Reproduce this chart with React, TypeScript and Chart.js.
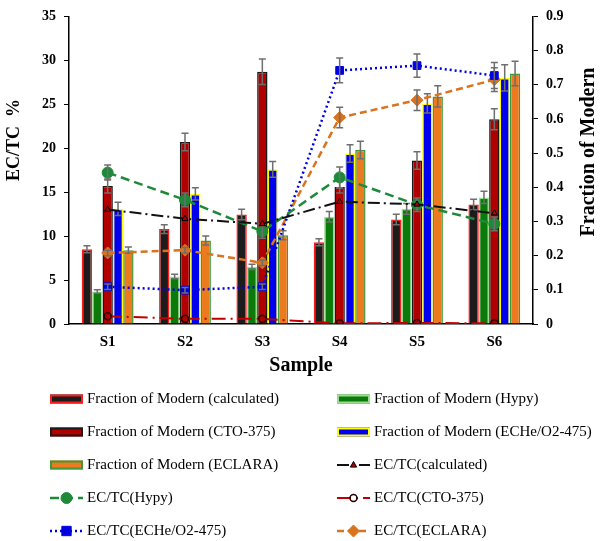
import React, { useEffect, useRef } from "react";
import { Chart, registerables } from "chart.js";

Chart.register(...registerables);

// ---------- data ----------
const samples = ["S1", "S2", "S3", "S4", "S5", "S6"];

const barCalculated = [8.5, 10.8, 12.45, 9.3, 11.9, 13.6];
const barCalculatedErr = [0.4, 0.5, 0.6, 0.4, 0.6, 0.6];
const barHypy = [3.7, 5.4, 6.5, 12.2, 13.1, 14.4];
const barHypyErr = [0.2, 0.25, 0.3, 0.6, 0.6, 0.7];
const barCTO = [15.7, 20.7, 28.7, 15.6, 18.6, 23.3];
const barCTOErr = [0.8, 1.0, 1.45, 0.7, 1.0, 1.2];
const barECHe = [13.1, 14.8, 17.6, 19.4, 25.1, 28.0];
const barECHeErr = [0.75, 0.7, 0.9, 1.0, 1.1, 1.5];
const barECLARA = [8.4, 9.5, 10.1, 19.8, 25.9, 28.5];
const barECLARAErr = [0.35, 0.5, 0.5, 1.0, 1.2, 1.4];

const lineCalculated = [0.335, 0.308, 0.293, 0.358, 0.35, 0.324];
const lineHypy = [0.443, 0.363, 0.271, 0.429, 0.349, 0.293];
const lineHypyErr = [0.022, 0.02, 0.02, 0.03, 0.02, 0.02];
const lineCTO = [0.023, 0.015, 0.015, 0.002, 0.003, 0.002];
const lineECHe = [0.109, 0.099, 0.109, 0.742, 0.756, 0.727];
const lineECHeErr = [0.008, 0.008, 0.008, 0.036, 0.034, 0.038];
const lineECLARA = [0.208, 0.216, 0.179, 0.604, 0.655, 0.715];
const lineECLARAErr = [0.008, 0.008, 0.008, 0.03, 0.03, 0.035];

const leftTicksMax = 35;
const rightTicksMax = 0.9;

const SERIF = "'Liberation Serif', 'Times New Roman', serif";

// ---------- helpers ----------
function drawMarker(ctx: CanvasRenderingContext2D, style: string, x: number, y: number, r: number, fill: string, stroke: string, bw: number) {
  ctx.save();
  ctx.beginPath();
  if (style === "circle") {
    ctx.arc(x, y, r, 0, Math.PI * 2);
  } else if (style === "rect") {
    ctx.rect(x - r * 0.85, y - r * 0.85, r * 1.7, r * 1.7);
  } else if (style === "rectRot") {
    ctx.moveTo(x, y - r);
    ctx.lineTo(x + r, y);
    ctx.lineTo(x, y + r);
    ctx.lineTo(x - r, y);
    ctx.closePath();
  } else if (style === "triangle") {
    ctx.moveTo(x, y - r);
    ctx.lineTo(x + r * 0.9, y + r * 0.6);
    ctx.lineTo(x - r * 0.9, y + r * 0.6);
    ctx.closePath();
  }
  if (fill && fill !== "transparent") {
    ctx.fillStyle = fill;
    ctx.fill();
  }
  if (bw > 0) {
    ctx.lineWidth = bw;
    ctx.strokeStyle = stroke;
    ctx.stroke();
  }
  ctx.restore();
}

const errorBarPlugin = {
  id: "errorBars",
  afterDatasetDraw(chart: any, args: any) {
    const ds = chart.data.datasets[args.index];
    if (!ds.errors) return;
    const meta = args.meta;
    const scale = chart.scales[meta.yAxisID];
    const ctx = chart.ctx;
    ctx.save();
    ctx.strokeStyle = "#6e6e6e";
    ctx.lineWidth = 1.5;
    meta.data.forEach((el: any, i: number) => {
      const v = ds.data[i];
      const e = ds.errors[i];
      if (v == null || !e) return;
      const x = el.x;
      const yt = scale.getPixelForValue(v + e);
      const yb = scale.getPixelForValue(v - e);
      ctx.beginPath();
      ctx.moveTo(x, yt);
      ctx.lineTo(x, yb);
      ctx.moveTo(x - 3.5, yt);
      ctx.lineTo(x + 3.5, yt);
      ctx.moveTo(x - 3.5, yb);
      ctx.lineTo(x + 3.5, yb);
      ctx.stroke();
    });
    ctx.restore();
  },
};

const titlesPlugin = {
  id: "axisTitles",
  afterDraw(chart: any) {
    const ctx = chart.ctx;
    ctx.save();
    ctx.fillStyle = "#000";
    ctx.textAlign = "center";
    ctx.textBaseline = "middle";
    ctx.font = `bold 18px ${SERIF}`;
    ctx.translate(14, 140);
    ctx.rotate(-Math.PI / 2);
    ctx.fillText("EC/TC  %", 0, 0);
    ctx.restore();

    ctx.save();
    ctx.fillStyle = "#000";
    ctx.textAlign = "center";
    ctx.textBaseline = "middle";
    ctx.font = `bold 20px ${SERIF}`;
    ctx.translate(589, 152);
    ctx.rotate(-Math.PI / 2);
    ctx.fillText("Fraction of Modern", 0, 0);
    ctx.restore();
  },
};

const legendPlugin = {
  id: "customLegend",
  afterDraw(chart: any) {
    const ctx = chart.ctx;
    const rowYs = [399, 432, 465, 498, 531];
    const colX = [50, 337];
    const sw = 33;
    chart.data.datasets.forEach((ds: any, i: number) => {
      const col = i % 2;
      const row = Math.floor(i / 2);
      const x0 = colX[col];
      const y = rowYs[row];
      ctx.save();
      if (ds.type === "bar") {
        ctx.fillStyle = ds.backgroundColor;
        ctx.fillRect(x0, y - 4.5, sw, 9);
        ctx.strokeStyle = ds.borderColor;
        ctx.lineWidth = 2;
        ctx.strokeRect(x0 + 1, y - 3.5, sw - 2, 7);
      } else {
        ctx.strokeStyle = ds.borderColor;
        ctx.lineWidth = ds.borderWidth;
        ctx.setLineDash(ds.borderDash || []);
        ctx.beginPath();
        ctx.moveTo(x0, y);
        ctx.lineTo(x0 + sw, y);
        ctx.stroke();
        ctx.setLineDash([]);
        drawMarker(ctx, ds.pointStyle, x0 + sw / 2, y, ds.pointRadius, ds.pointBackgroundColor, ds.pointBorderColor, ds.pointBorderWidth);
      }
      ctx.fillStyle = "#000";
      ctx.font = `15px ${SERIF}`;
      ctx.textAlign = "left";
      ctx.textBaseline = "middle";
      ctx.fillText(ds.label, x0 + sw + 4, y);
      ctx.restore();
    });
  },
};

function makeBar(label: string, data: number[], errors: number[], bg: string, border: string) {
  return {
    type: "bar" as const,
    label,
    data,
    errors,
    backgroundColor: bg,
    borderColor: border,
    borderWidth: 1.5,
    yAxisID: "y",
    order: 2,
    categoryPercentage: 0.67,
    barPercentage: 1.0,
  };
}

function makeLine(label: string, data: number[], errors: number[] | null, color: string, dash: number[], width: number, pointStyle: string, radius: number, pfill: string, pborder: string, pbw: number) {
  return {
    type: "line" as const,
    label,
    data,
    errors,
    borderColor: color,
    backgroundColor: pfill,
    borderWidth: width,
    borderDash: dash,
    fill: false,
    tension: 0,
    pointStyle,
    pointRadius: radius,
    pointBackgroundColor: pfill,
    pointBorderColor: pborder,
    pointBorderWidth: pbw,
    yAxisID: "y1",
    order: 1,
  };
}

export default function App() {
  const ref = useRef<HTMLCanvasElement | null>(null);

  useEffect(() => {
    document.body.style.margin = "0";
    const canvas = ref.current;
    if (!canvas) return;

    const datasets: any[] = [
      makeBar("Fraction of Modern (calculated)", barCalculated, barCalculatedErr, "#1c1c1c", "#ff1a1a"),
      makeBar("Fraction of Modern (Hypy)", barHypy, barHypyErr, "#0b7a0b", "#9bdc8f"),
      makeBar("Fraction of Modern (CTO-375)", barCTO, barCTOErr, "#b00000", "#1a1a1a"),
      makeBar("Fraction of Modern (ECHe/O2-475)", barECHe, barECHeErr, "#0000ee", "#ffff00"),
      makeBar("Fraction of Modern (ECLARA)", barECLARA, barECLARAErr, "#ec7a1e", "#3c9a3c"),
      makeLine("EC/TC(calculated)", lineCalculated, null, "#111111", [12, 4, 2, 4], 2, "triangle", 3.5, "#b00000", "#000000", 1),
      makeLine("EC/TC(Hypy)", lineHypy, lineHypyErr, "#1d8a3a", [9, 5], 2.5, "circle", 5.5, "#1d8a3a", "#1d8a3a", 1),
      makeLine("EC/TC(CTO-375)", lineCTO, null, "#c00000", [14, 5, 2, 5], 2, "circle", 3.5, "transparent", "#220000", 1.5),
      makeLine("EC/TC(ECHe/O2-475)", lineECHe, lineECHeErr, "#0000e0", [2, 3], 2.5, "rect", 5.5, "#0000e0", "#0000e0", 1),
      makeLine("EC/TC(ECLARA)", lineECLARA, lineECLARAErr, "#d9731f", [7, 4], 2.5, "rectRot", 6, "#d9731f", "#d9731f", 1),
    ];

    const chart = new Chart(canvas, {
      type: "bar",
      data: { labels: samples, datasets },
      options: {
        responsive: false,
        animation: false,
        devicePixelRatio: 1,
        layout: { padding: { top: 16, left: 0, right: 0, bottom: 163 } },
        plugins: {
          legend: { display: false },
          tooltip: { enabled: false },
        },
        scales: {
          x: {
            offset: true,
            grid: { display: false, drawTicks: false },
            border: { display: true, color: "#000", width: 1.5 },
            ticks: {
              color: "#000",
              padding: 9,
              font: { family: SERIF, size: 15, weight: "bold" },
            },
            title: {
              display: true,
              text: "Sample",
              color: "#000",
              padding: { top: 0, bottom: 0 },
              font: { family: SERIF, size: 20, weight: "bold" },
            },
            afterFit: (s: any) => {
              s.height = 54;
            },
          },
          y: {
            position: "left",
            min: 0,
            max: leftTicksMax,
            ticks: {
              stepSize: 5,
              color: "#000",
              padding: 8,
              font: { family: SERIF, size: 14, weight: "bold" },
            },
            grid: { drawOnChartArea: false, drawTicks: true, tickLength: 5, color: "#000", lineWidth: 1 },
            border: { display: true, color: "#000", width: 1.5 },
            afterFit: (s: any) => {
              s.width = 69;
            },
          },
          y1: {
            position: "right",
            min: 0,
            max: rightTicksMax,
            ticks: {
              stepSize: 0.1,
              color: "#000",
              padding: 8,
              font: { family: SERIF, size: 14, weight: "bold" },
            },
            grid: { drawOnChartArea: false, drawTicks: true, tickLength: 5, color: "#000", lineWidth: 1 },
            border: { display: true, color: "#000", width: 1.5 },
            afterFit: (s: any) => {
              s.width = 67;
            },
          },
        },
      } as any,
      plugins: [errorBarPlugin, titlesPlugin, legendPlugin],
    });

    return () => chart.destroy();
  }, []);

  return (
    <div style={{ width: 600, height: 541, background: "#fff" }}>
      <canvas ref={ref} width={600} height={541} style={{ display: "block" }} />
    </div>
  );
}
